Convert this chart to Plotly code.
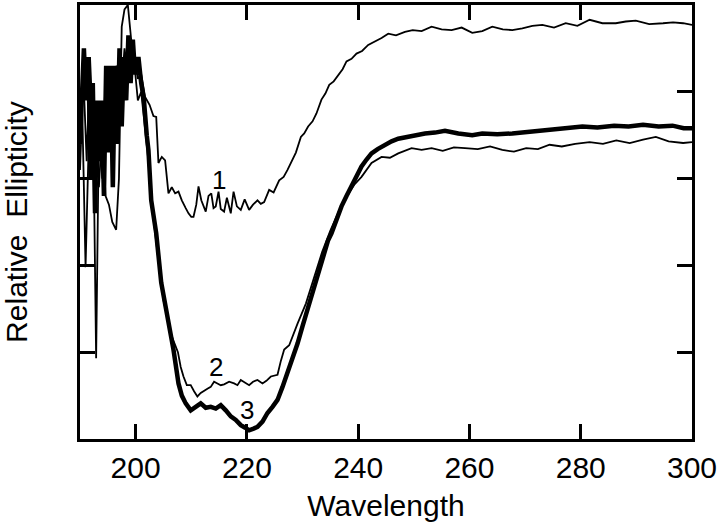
import plotly.graph_objects as go

# Curve 1 (thin, upper)
wl1 = [190.0, 190.4, 191.0, 191.6, 192.2, 192.8, 193.4, 194.0, 194.6, 195.2, 195.8, 196.5, 197.0, 197.5, 198.0,
       198.6, 199.2, 199.8, 200.4, 201.0, 201.7, 202.5, 203.2, 203.7, 204.1, 204.7, 205.3, 205.9, 206.5, 207.1,
       207.7, 208.3, 209.0, 209.5, 210.0, 210.4, 210.9, 211.3, 211.8, 212.6, 213.1, 213.6, 214.0, 214.4, 214.9,
       215.3, 215.9, 216.4, 217.1, 217.6, 218.2, 218.9, 219.6, 220.4, 221.1, 221.9, 222.5, 223.1, 224.0, 224.8,
       225.8, 226.6, 227.3, 227.9, 228.8, 229.7, 230.3, 231.0, 231.8, 232.5, 233.4, 234.1, 234.8, 235.6, 236.4,
       237.2, 237.9, 238.8, 239.7, 240.7, 241.8, 243.0, 244.2, 245.4, 246.8, 248.4, 249.8, 251.4, 253.2, 255.0,
       256.8, 258.6, 260.5, 262.3, 264.1, 266.0, 267.7, 269.5, 271.3, 273.1, 275.2, 277.3, 279.4, 281.6, 283.9,
       286.3, 288.1, 289.9, 292.3, 294.8, 296.6, 298.4, 300.0]
ell1 = [3.1, 3.8, 1.98, 3.5, 4.1, 3.0, 2.9, 3.6, 2.8, 2.7, 2.5, 2.41, 3.0, 4.75, 4.95,
        5.0, 4.6, 4.4, 4.15, 4.2, 3.94, 3.85, 3.72, 3.71, 3.18, 3.25, 3.21, 2.83, 2.9, 2.83,
        2.85, 2.75, 2.66, 2.60, 2.56, 2.56, 2.7, 2.91, 2.75, 2.62, 2.80, 2.83, 2.66, 2.68, 2.85,
        2.65, 2.62, 2.78, 2.60, 2.85, 2.68, 2.64, 2.76, 2.64, 2.70, 2.75, 2.71, 2.73, 2.87, 2.84,
        2.98, 3.02, 3.10, 3.18, 3.30, 3.48, 3.52, 3.60, 3.66, 3.75, 3.91, 3.98, 4.08, 4.12, 4.19,
        4.26, 4.35, 4.38, 4.44, 4.47, 4.54, 4.58, 4.62, 4.67, 4.65, 4.69, 4.71, 4.70, 4.75, 4.72,
        4.71, 4.74, 4.68, 4.70, 4.75, 4.72, 4.71, 4.73, 4.76, 4.77, 4.74, 4.79, 4.76, 4.83, 4.79,
        4.79, 4.81, 4.82, 4.78, 4.79, 4.80, 4.79, 4.77]

# Curve 2 (thin, lower)
wl2 = [190.0, 190.6, 191.2, 191.8, 192.4, 192.9, 193.4, 194.0, 194.6, 195.3, 196.0, 196.6, 197.3, 198.0, 198.6,
       199.2, 199.8, 200.4, 201.0, 201.7, 202.3, 202.9, 203.6, 204.3, 205.0, 205.7, 206.4, 207.0, 207.6, 208.1,
       208.6, 209.2, 209.9, 210.5, 211.1, 211.7, 212.3, 212.9, 213.5, 214.1, 214.7, 215.3, 215.9, 216.8, 217.7,
       218.3, 218.9, 219.6, 220.4, 221.1, 221.9, 222.8, 223.5, 224.3, 225.5, 226.1, 226.7, 227.6, 228.3, 229.1,
       230.6, 232.0, 233.5, 235.0, 236.5, 238.0, 239.3, 240.6, 242.4, 244.2, 245.7, 247.2, 249.6, 251.4, 253.2,
       255.2, 257.2, 259.2, 261.5, 263.7, 265.9, 268.0, 270.2, 272.3, 274.4, 276.6, 279.0, 281.6, 284.0, 286.4,
       288.8, 291.2, 293.5, 295.8, 298.4, 300.0]
ell2 = [3.8, 4.2, 3.2, 4.4, 3.5, 0.93, 3.6, 3.0, 4.2, 3.5, 4.1, 4.3, 3.9, 4.5, 4.2,
        4.6, 4.3, 3.9, 4.0, 3.6, 3.2, 2.7, 2.3, 1.95, 1.6, 1.4, 1.2, 1.1, 1.0, 0.83,
        0.72, 0.62, 0.62, 0.55, 0.49, 0.53, 0.56, 0.58, 0.60, 0.66, 0.64, 0.62, 0.63, 0.66, 0.64,
        0.62, 0.68, 0.65, 0.62, 0.66, 0.68, 0.64, 0.67, 0.72, 0.74, 0.90, 1.03, 1.08, 1.20, 1.33,
        1.56, 1.84, 2.15, 2.40, 2.62, 2.80, 2.93, 3.02, 3.18, 3.25, 3.24, 3.29, 3.35, 3.33, 3.35,
        3.32, 3.36, 3.35, 3.34, 3.37, 3.33, 3.31, 3.35, 3.34, 3.39, 3.37, 3.40, 3.42, 3.40, 3.44,
        3.41, 3.45, 3.48, 3.43, 3.41, 3.42]

# Curve 3 (thick)
wl3 = [190.0, 190.3, 190.7, 191.1, 191.5, 191.9, 192.3, 192.7, 193.1, 193.5, 193.9, 194.3, 194.7, 195.1, 195.5,
       195.9, 196.3, 196.7, 197.1, 197.5, 197.9, 198.3, 198.7, 199.1, 199.5, 199.9, 200.5, 201.0, 201.5, 202.0,
       202.3, 202.8, 203.7, 204.6, 205.8, 206.8, 207.7, 208.3, 209.0, 209.9, 210.8, 211.7, 212.6, 213.5, 214.4,
       215.3, 216.2, 217.1, 218.0, 218.9, 219.7, 220.4, 221.2, 221.9, 222.8, 223.7, 224.6, 225.5, 226.4, 227.3,
       228.2, 229.1, 230.0, 230.9, 231.9, 232.8, 233.7, 234.6, 235.2, 236.1, 237.0, 237.9, 238.8, 239.7, 240.6,
       241.5, 242.4, 243.5, 244.7, 246.0, 247.2, 248.7, 250.2, 252.0, 253.8, 255.6, 258.0, 260.5, 262.3, 265.0,
       267.7, 271.0, 274.0, 277.0, 280.3, 283.0, 286.0, 288.6, 291.2, 294.0, 296.5, 298.5, 300.0]
ell3 = [3.4, 4.0, 4.5, 3.9, 4.4, 3.0, 4.1, 2.6, 3.9, 3.2, 3.9, 2.8, 4.3, 3.3, 4.3,
        2.9, 4.3, 3.4, 4.5, 3.6, 4.4, 3.9, 4.65, 4.1, 4.6, 4.2, 4.4, 4.1, 3.9, 3.5,
        3.33, 2.75, 2.37, 1.80, 1.41, 1.03, 0.64, 0.50, 0.41, 0.33, 0.37, 0.41, 0.36, 0.37, 0.35,
        0.39, 0.33, 0.26, 0.22, 0.16, 0.13, 0.10, 0.12, 0.14, 0.20, 0.30, 0.37, 0.45, 0.60, 0.76,
        0.93, 1.10, 1.30, 1.49, 1.68, 1.87, 2.08, 2.29, 2.37, 2.53, 2.68, 2.80, 2.91, 3.03, 3.14,
        3.22, 3.29, 3.34, 3.39, 3.43, 3.46, 3.48, 3.50, 3.52, 3.53, 3.55, 3.52, 3.50, 3.52, 3.51,
        3.52, 3.54, 3.55, 3.57, 3.60, 3.59, 3.61, 3.60, 3.62, 3.60, 3.61, 3.58, 3.58]

curve_labels = ["1", "2", "3"]
label_x = [214.9, 214.4, 220.1]
label_y = [2.98, 0.83, 0.33]

x_ticks = [200, 220, 240, 260, 280, 300]
y_ticks = [1, 2, 3, 4]

FONT = "Liberation Sans, Arial, Helvetica, sans-serif"

fig = go.Figure()
fig.add_trace(go.Scatter(x=wl1, y=ell1, mode="lines", line=dict(color="black", width=1.8), showlegend=False))
fig.add_trace(go.Scatter(x=wl2, y=ell2, mode="lines", line=dict(color="black", width=1.8), showlegend=False))
fig.add_trace(go.Scatter(x=wl3, y=ell3, mode="lines", line=dict(color="black", width=4.5), showlegend=False))

for t, lx, ly in zip(curve_labels, label_x, label_y):
    fig.add_annotation(x=lx, y=ly, text=t, showarrow=False,
                       font=dict(family=FONT, size=26, color="black"),
                       bgcolor="rgba(0,0,0,0)")

fig.update_layout(
    width=720, height=531,
    margin=dict(l=80, r=28, t=5, b=92),
    paper_bgcolor="white", plot_bgcolor="white",
    font=dict(family=FONT, color="black", size=30),
)
fig.update_xaxes(
    range=[190, 300], tickvals=x_ticks, ticktext=[str(v) for v in x_ticks],
    ticks="inside", ticklen=15, tickwidth=3, tickcolor="black",
    showline=True, linewidth=3, linecolor="black", mirror="ticks",
    showgrid=False, zeroline=False, automargin=False,
    tickfont=dict(family=FONT, size=30, color="black"),
    title=dict(text="Wavelength", font=dict(family=FONT, size=30, color="black"), standoff=12),
)
fig.update_yaxes(
    range=[0, 5], tickvals=y_ticks, showticklabels=False,
    ticks="inside", ticklen=15, tickwidth=3, tickcolor="black",
    showline=True, linewidth=3, linecolor="black", mirror="ticks",
    showgrid=False, zeroline=False, automargin=False,
    title=dict(text="Relative  Ellipticity", font=dict(family=FONT, size=30, color="black"), standoff=45),
)

fig.write_html("out.html", config={"displayModeBar": False},
               post_script="document.body.style.margin='0px';document.body.style.overflow='hidden';")
